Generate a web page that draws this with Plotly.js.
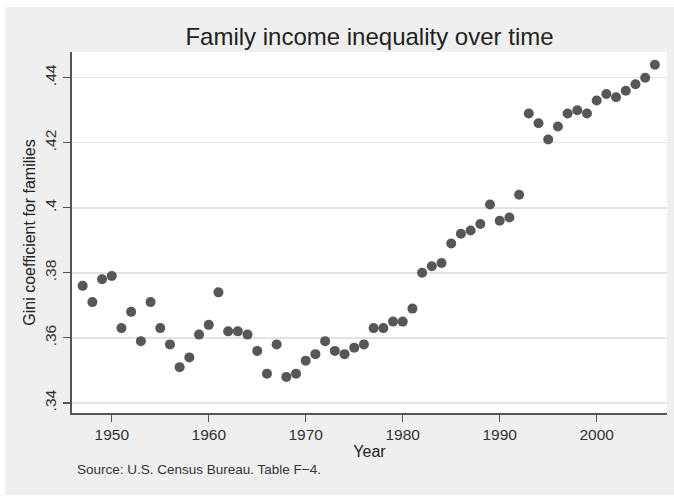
<!DOCTYPE html>
<html>
<head>
<meta charset="utf-8">
<script src="https://cdn.plot.ly/plotly-3.0.1.min.js"></script>
<style>
  html, body { margin: 0; padding: 0; background: #ffffff; }
  #chart { position: absolute; left: 5px; top: 7px; width: 669px; height: 488px; }
</style>
</head>
<body>
<div id="chart"></div>
<script>
const years = [1947,1948,1949,1950,1951,1952,1953,1954,1955,1956,1957,1958,1959,
  1960,1961,1962,1963,1964,1965,1966,1967,1968,1969,1970,1971,1972,1973,1974,
  1975,1976,1977,1978,1979,1980,1981,1982,1983,1984,1985,1986,1987,1988,1989,
  1990,1991,1992,1993,1994,1995,1996,1997,1998,1999,2000,2001,2002,2003,2004,
  2005,2006];
const gini = [.376,.371,.378,.379,.363,.368,.359,.371,.363,.358,.351,.354,.361,
  .364,.374,.362,.362,.361,.356,.349,.358,.348,.349,.353,.355,.359,.356,.355,
  .357,.358,.363,.363,.365,.365,.369,.380,.382,.383,.389,.392,.393,.395,.401,
  .396,.397,.404,.429,.426,.421,.425,.429,.430,.429,.433,.435,.434,.436,.438,
  .440,.444];
const xTicks = [1950,1960,1970,1980,1990,2000];
const yTicks = [0.34,0.36,0.38,0.40,0.42,0.44];
const yTickText = ['.34','.36','.38','.4','.42','.44'];

const font = 'Liberation Sans, Arial, sans-serif';

const trace = {
  x: years, y: gini, type: 'scatter', mode: 'markers',
  marker: { color: '#575757', size: 10 },
  hoverinfo: 'x+y'
};

const layout = {
  width: 669, height: 488,
  paper_bgcolor: '#efefef', plot_bgcolor: '#ffffff',
  margin: { l: 67, r: 7, t: 45, b: 82 },
  showlegend: false,
  font: { family: font, color: '#333333' },
  title: { text: 'Family income inequality over time',
    font: { family: font, size: 24, color: '#222222' },
    x: 0.5, xref: 'paper', xanchor: 'center',
    y: 1 - 30/488, yref: 'container', yanchor: 'middle' },
  xaxis: {
    range: [1945.9, 2007.25], tickvals: xTicks, ticktext: xTicks.map(String),
    showgrid: false, zeroline: false,
    showline: true, linecolor: '#555555', linewidth: 1.6,
    ticks: 'outside', ticklen: 7, tickwidth: 1.2, tickcolor: '#555555',
    tickfont: { family: font, size: 15.5, color: '#333333' },
    title: { text: 'Year', font: { family: font, size: 16, color: '#222222' }, standoff: 2 }
  },
  yaxis: {
    range: [0.3369, 0.4479], tickvals: yTicks, ticktext: yTickText,
    tickangle: -90,
    showgrid: true, gridcolor: '#e2e2e2', gridwidth: 1.5,
    zeroline: false,
    showline: true, linecolor: '#555555', linewidth: 1.6,
    ticks: 'outside', ticklen: 7, tickwidth: 1.2, tickcolor: '#555555',
    ticklabelstandoff: 1,
    tickfont: { family: font, size: 15.5, color: '#333333' },
    title: { text: 'Gini coefficient for families', font: { family: font, size: 16, color: '#222222' }, standoff: 2 }
  },
  annotations: [{
    text: 'Source: U.S. Census Bureau. Table F\u22124.',
    xref: 'paper', yref: 'paper', x: 0.005, y: -56/361,
    xanchor: 'left', yanchor: 'middle', showarrow: false,
    font: { family: font, size: 13.5, color: '#333333' }
  }]
};

Plotly.newPlot('chart', [trace], layout, { displayModeBar: false, staticPlot: true });
</script>
</body>
</html>
